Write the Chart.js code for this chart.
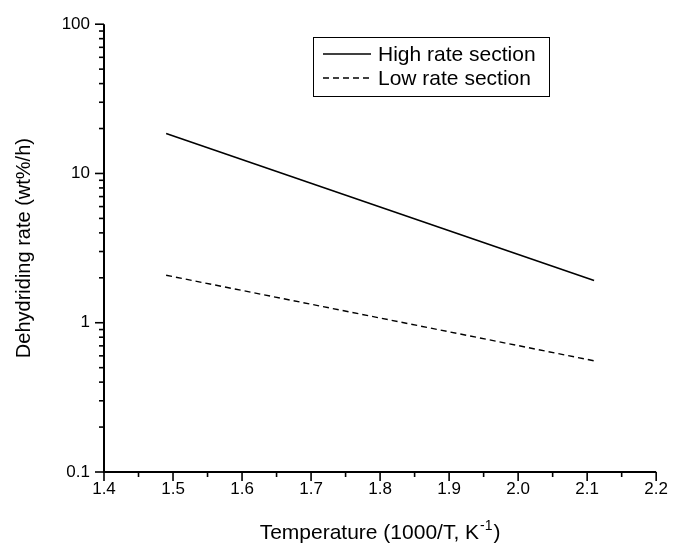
<!DOCTYPE html>
<html>
<head>
<meta charset="utf-8">
<script src="https://cdn.jsdelivr.net/npm/chart.js@4.4.1/dist/chart.umd.min.js"></script>
<style>
  html, body { margin: 0; padding: 0; background: #fff; }
  #wrap { width: 675px; height: 548px; position: relative; }
</style>
</head>
<body>
<div id="wrap"><canvas id="c" width="675" height="548"></canvas></div>
<script>
// ---- Data ----
const seriesLabels = ["High rate section", "Low rate section"];
const highX = [1.49, 2.11];
const highY = [18.5, 1.92];
const lowX = [1.49, 2.11];
const lowY = [2.08, 0.556];
const xTickValues = [1.4, 1.5, 1.6, 1.7, 1.8, 1.9, 2.0, 2.1, 2.2];
const yTickLabels = [0.1, 1, 10, 100];
const xTitle = "Temperature (1000/T, K";
const xTitleSup = "-1";
const yTitle = "Dehydriding rate (wt%/h)";

const FONT = "'Liberation Sans', Arial, Helvetica, sans-serif";

function pts(xs, ys) { return xs.map((x, i) => ({ x: x, y: ys[i] })); }

const tickPlugin = {
  id: 'customTicks',
  afterDraw(chart) {
    const ctx = chart.ctx;
    const xs = chart.scales.x, ys = chart.scales.y;
    const ca = chart.chartArea;
    ctx.save();
    ctx.strokeStyle = '#000';
    ctx.lineWidth = 1.6;
    // x ticks (major every 0.1, minor every 0.05)
    for (let i = 0; i < xTickValues.length; i++) {
      const v = xTickValues[i];
      const px = xs.getPixelForValue(v);
      ctx.beginPath(); ctx.moveTo(px, ca.bottom); ctx.lineTo(px, ca.bottom + 9); ctx.stroke();
      if (i < xTickValues.length - 1) {
        const m = (v + xTickValues[i + 1]) / 2;
        const pm = xs.getPixelForValue(m);
        ctx.beginPath(); ctx.moveTo(pm, ca.bottom); ctx.lineTo(pm, ca.bottom + 5); ctx.stroke();
      }
    }
    // y ticks (log: major at decades, minor 2..9)
    for (let d = 0; d < yTickLabels.length; d++) {
      const base = yTickLabels[d];
      const py = ys.getPixelForValue(base);
      ctx.beginPath(); ctx.moveTo(ca.left, py); ctx.lineTo(ca.left - 9, py); ctx.stroke();
      if (d < yTickLabels.length - 1) {
        for (let k = 2; k <= 9; k++) {
          const pm = ys.getPixelForValue(base * k);
          ctx.beginPath(); ctx.moveTo(ca.left, pm); ctx.lineTo(ca.left - 5, pm); ctx.stroke();
        }
      }
    }
    // axis lines
    ctx.lineWidth = 2;
    ctx.beginPath();
    ctx.moveTo(ca.left, ca.top); ctx.lineTo(ca.left, ca.bottom); ctx.lineTo(ca.right, ca.bottom);
    ctx.stroke();

    // x title with superscript
    ctx.fillStyle = '#000';
    ctx.textBaseline = 'alphabetic';
    const mainFont = '21px ' + FONT;
    const supFont = '14px ' + FONT;
    ctx.font = mainFont;
    const w1 = ctx.measureText(xTitle).width;
    ctx.font = supFont;
    const w2 = ctx.measureText(xTitleSup).width;
    ctx.font = mainFont;
    const w3 = ctx.measureText(')').width;
    const total = w1 + w2 + w3 + 2;
    const cx = (ca.left + ca.right) / 2;
    let x0 = cx - total / 2;
    const by = 539;
    ctx.textAlign = 'left';
    ctx.fillText(xTitle, x0, by);
    ctx.font = supFont;
    ctx.fillText(xTitleSup, x0 + w1 + 1, by - 9);
    ctx.font = mainFont;
    ctx.fillText(')', x0 + w1 + w2 + 2, by);

    // y title
    ctx.save();
    ctx.translate(30, (ca.top + ca.bottom) / 2);
    ctx.rotate(-Math.PI / 2);
    ctx.textAlign = 'center';
    ctx.font = '20px ' + FONT;
    ctx.fillText(yTitle, 0, 0);
    ctx.restore();

    // legend
    const bx = 313, by0 = 37, bw = 236, bh = 59;
    ctx.lineWidth = 1;
    ctx.strokeStyle = '#000';
    ctx.strokeRect(bx + 0.5, by0 + 0.5, bw, bh);
    ctx.font = '21px ' + FONT;
    ctx.textBaseline = 'middle';
    chart.data.datasets.forEach((ds, i) => {
      const ly = 54 + i * 24;
      ctx.beginPath();
      ctx.lineWidth = 1.5;
      ctx.setLineDash(ds.borderDash || []);
      ctx.moveTo(323, ly); ctx.lineTo(371, ly); ctx.stroke();
      ctx.setLineDash([]);
      ctx.fillText(ds.label, 378, ly + 1);
    });
    ctx.restore();
  }
};

new Chart(document.getElementById('c'), {
  type: 'line',
  data: {
    datasets: [
      { label: seriesLabels[0], data: pts(highX, highY), borderColor: '#000', borderWidth: 1.6,
        pointRadius: 0, fill: false, tension: 0 },
      { label: seriesLabels[1], data: pts(lowX, lowY), borderColor: '#000', borderWidth: 1.4,
        borderDash: [6, 4], pointRadius: 0, fill: false, tension: 0 }
    ]
  },
  options: {
    responsive: false,
    animation: false,
    devicePixelRatio: 1,
    layout: { padding: { left: 0, right: 16, top: 22, bottom: 0 } },
    plugins: { legend: { display: false }, tooltip: { enabled: false } },
    scales: {
      x: {
        type: 'linear', min: 1.4, max: 2.2,
        afterBuildTicks(scale) { scale.ticks = xTickValues.map(v => ({ value: v })); },
        afterFit(scale) { scale.height = 76; },
        grid: { display: false, drawTicks: false },
        border: { display: false },
        ticks: {
          color: '#000', padding: 7, maxRotation: 0, autoSkip: false,
          font: { family: FONT, size: 17 },
          callback: v => Number(v).toFixed(1)
        }
      },
      y: {
        type: 'logarithmic', min: 0.1, max: 100,
        afterBuildTicks(scale) { scale.ticks = yTickLabels.map(v => ({ value: v })); },
        afterFit(scale) { scale.width = 104; },
        grid: { display: false, drawTicks: false },
        border: { display: false },
        ticks: {
          color: '#000', padding: 14, autoSkip: false,
          font: { family: FONT, size: 17 },
          callback: v => String(v)
        }
      }
    }
  },
  plugins: [tickPlugin]
});
</script>
</body>
</html>
